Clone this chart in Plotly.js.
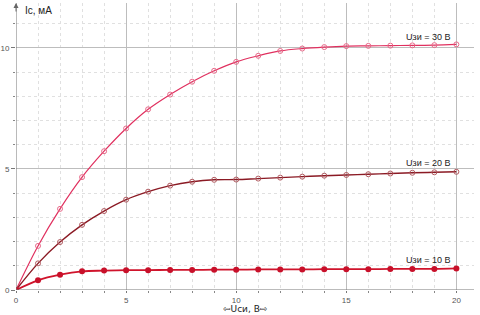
<!DOCTYPE html>
<html><head><meta charset="utf-8">
<script src="https://cdn.plot.ly/plotly-3.0.1.min.js"></script>
<style>html,body{margin:0;padding:0;background:#fff}#c{width:480px;height:315px}</style>
</head><body><div id="c"></div>
<script>
const uds = [0,1,2,3,4,5,6,7,8,9,10,11,12,13,14,15,16,17,18,19,20];
const ic30 = [0,1.82,3.35,4.66,5.73,6.67,7.46,8.07,8.6,9.05,9.42,9.67,9.87,9.97,10.03,10.07,10.08,10.09,10.1,10.11,10.14];
const ic20 = [0,1.1,1.98,2.69,3.26,3.73,4.06,4.31,4.47,4.55,4.56,4.6,4.64,4.68,4.72,4.75,4.78,4.81,4.84,4.86,4.88];
const ic10 = [0,0.4,0.63,0.77,0.8,0.82,0.82,0.83,0.83,0.84,0.84,0.85,0.85,0.85,0.86,0.86,0.86,0.87,0.87,0.87,0.89];
const labels = ["Uзи = 30 В","Uзи = 20 В","Uзи = 10 В"];
const labelY = [10.45,5.25,1.25];
const xTicks = [0,5,10,15,20];
const yTicks = [0,5,10];

const f = {family:"Liberation Sans, Arial, sans-serif", size:9, color:"#222"};
const ft = {family:"Liberation Sans, Arial, sans-serif", size:8, color:"#555"};
const traces = [
  {x:uds,y:ic30,mode:"lines+markers",line:{color:"#e0305f",width:1.2,shape:"spline"},
   marker:{symbol:"circle-open",size:5,color:"#e86a8a",line:{width:1}}},
  {x:uds,y:ic20,mode:"lines+markers",line:{color:"#8b1a24",width:1.4,shape:"spline"},
   marker:{symbol:"circle-open",size:5,color:"#b05a60",line:{width:1}}},
  {x:uds,y:ic10,mode:"lines+markers",line:{color:"#d0142c",width:1.8,shape:"spline"},
   marker:{symbol:"circle",size:6,color:"#c8102a"}}
];
const ann = labels.map((t,i)=>({x:18.7,y:labelY[i],xref:"x",yref:"y",text:t,showarrow:false,font:f}));
ann.push({x:0,y:11.85,xref:"x",yref:"y",text:"",showarrow:true,arrowhead:2,arrowsize:1,arrowwidth:1,arrowcolor:"#666",ax:0,ay:10});
ann.push({x:0.015,y:1.0,xref:"paper",yref:"paper",xanchor:"left",yanchor:"top",text:"Ic, мА",showarrow:false,font:{family:f.family,size:10,color:"#222"}});
ann.push({x:0.5,y:-0.087,xref:"paper",yref:"paper",xanchor:"center",yanchor:"bottom",borderpad:0,height:11,
  text:"⇦Uси, В⇨",showarrow:false,font:{family:"DejaVu Sans, sans-serif",size:9,color:"#222"}});

const layout = {
  width:480,height:315,margin:{l:16,r:6,t:3,b:25},
  paper_bgcolor:"#fff",plot_bgcolor:"#fff",showlegend:false,
  xaxis:{range:[0,20.8],tickvals:xTicks,ticks:"outside",ticklen:2,tickcolor:"#777",
    showgrid:true,gridcolor:"#bdbdbd",gridwidth:1,zeroline:false,showline:false,
    tickfont:ft,
    minor:{dtick:1,showgrid:true,gridcolor:"#e0e0e0",griddash:"dot",ticks:"outside",ticklen:2,tickcolor:"#888"}},
  yaxis:{range:[0,11.85],tickvals:yTicks,ticks:"outside",ticklen:4,tickcolor:"#777",
    showgrid:true,gridcolor:"#bdbdbd",gridwidth:1,zeroline:false,showline:false,
    tickfont:ft,
    minor:{dtick:1,showgrid:true,gridcolor:"#e0e0e0",griddash:"dot",ticks:"outside",ticklen:2,tickcolor:"#888"}},
  shapes:[
    {type:"line",xref:"x",yref:"paper",x0:0,x1:0,y0:0,y1:1,line:{color:"#777",width:1}},
    {type:"line",xref:"paper",yref:"y",x0:0,x1:1,y0:0,y1:0,line:{color:"#777",width:1}}
  ],
  annotations:ann
};
Plotly.newPlot("c",traces,layout,{staticPlot:true,displayModeBar:false});
</script></body></html>
